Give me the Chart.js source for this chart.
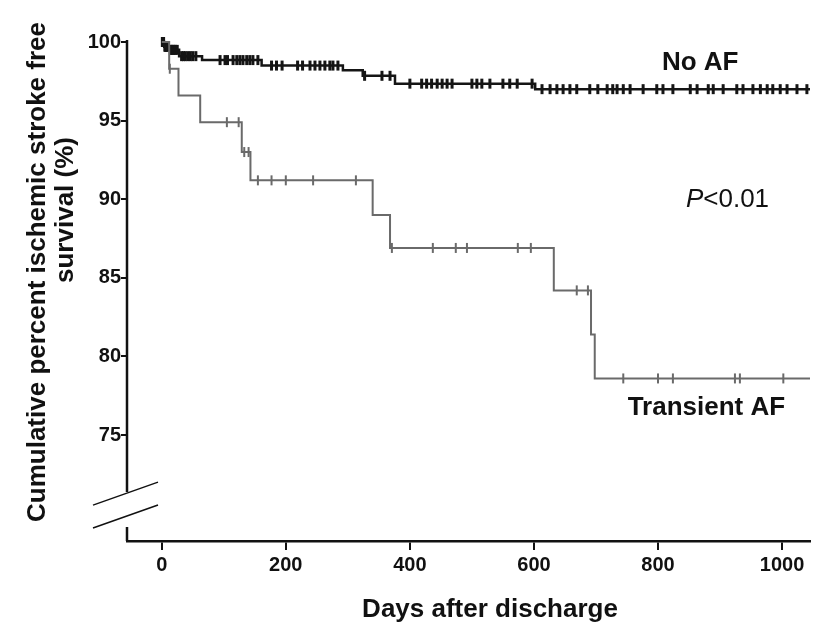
<!DOCTYPE html>
<html>
<head>
<meta charset="utf-8">
<script src="https://cdn.jsdelivr.net/npm/chart.js@4.4.0/dist/chart.umd.min.js"></script>
<style>
  body { margin: 0; background: #fff; }
  #wrap { width: 819px; height: 633px; }
</style>
</head>
<body>
<div id="wrap"><canvas id="kmChart" width="819" height="633"></canvas></div>
<script>
  // Kaplan-Meier steps (days after discharge, % survival)
  const noAfDays = [0, 4, 12, 28, 65, 161, 292, 324, 376, 602, 1045];
  const noAfSurv = [100, 99.7, 99.5, 99.1, 98.85, 98.5, 98.2, 97.85, 97.35, 97.0, 97.0];
  const tafDays = [0, 12, 27, 62, 129, 143, 340, 368, 632, 692, 698, 1045];
  const tafSurv = [100, 98.3, 96.6, 94.9, 93.0, 91.2, 89.0, 86.9, 84.2, 81.4, 78.6, 78.6];

  // censored observations (days)
  const noAfCensored = [1, 2, 3, 5, 6, 7, 8, 9, 14, 16, 18, 20, 22, 25, 32, 35, 38, 42, 46, 50, 55,
    94, 102, 106, 115, 121, 126, 131, 137, 142, 147, 155,
    177, 185, 194, 219, 227, 239, 247, 255, 263, 271, 276, 284,
    327, 355, 368,
    400, 419, 427, 435, 444, 452, 460, 468, 500, 508, 516, 529, 550, 561, 573, 597,
    613, 626, 637, 647, 658, 669, 690, 703, 718, 727, 734, 744, 755, 776, 798, 808, 824,
    852, 863, 881, 889, 905, 927, 937, 953, 965, 976, 985, 997, 1008, 1024, 1040];
  const tafCensored = [13, 105, 124, 133, 140, 155, 177, 200, 244, 313, 371, 437, 474, 492,
    574, 595, 669, 687, 744, 800, 824, 924, 932, 1002];

  const xTicks = [0, 200, 400, 600, 800, 1000];
  const yTicks = [75, 80, 85, 90, 95, 100];

  const FONT = '"Liberation Sans", Arial, sans-serif';

  // survival at time t from a step curve
  function survAt(days, surv, t) {
    let v = surv[0];
    for (let i = 0; i < days.length; i++) {
      if (days[i] <= t) v = surv[i];
    }
    return v;
  }

  function toPoints(xs, ys) {
    return xs.map((x, i) => ({ x: x, y: ys[i] }));
  }

  function censorPoints(times, days, surv) {
    return times.map(t => ({ x: t, y: survAt(days, surv, t) }));
  }

  // axis with a break + text labels
  const extrasPlugin = {
    id: 'extras',
    afterDraw(chart) {
      const ctx = chart.ctx;
      const area = chart.chartArea;
      const yScale = chart.scales.y;
      const xScale = chart.scales.x;
      const left = area.left;
      const breakTop = yScale.getPixelForValue(71.37);
      const breakBottom = yScale.getPixelForValue(69.15);

      ctx.save();
      ctx.strokeStyle = '#111';
      ctx.lineWidth = 2.5;
      ctx.beginPath();
      ctx.moveTo(left, area.top - 2);
      ctx.lineTo(left, breakTop);
      ctx.moveTo(left, breakBottom);
      ctx.lineTo(left, area.bottom);
      ctx.stroke();

      // break slashes
      ctx.lineWidth = 1.5;
      ctx.beginPath();
      ctx.moveTo(left - 34, breakTop + 13);
      ctx.lineTo(left + 31, breakTop - 10);
      ctx.moveTo(left - 34, breakBottom + 1);
      ctx.lineTo(left + 31, breakBottom - 22);
      ctx.stroke();

      // y title
      ctx.fillStyle = '#111';
      ctx.textAlign = 'center';
      ctx.textBaseline = 'middle';
      ctx.font = 'bold 26px ' + FONT;
      ctx.save();
      ctx.translate(38, 272);
      ctx.rotate(-Math.PI / 2);
      ctx.fillText('Cumulative percent ischemic stroke free', 0, 0);
      ctx.restore();
      ctx.save();
      ctx.translate(66, 210);
      ctx.rotate(-Math.PI / 2);
      ctx.fillText('survival (%)', 0, 0);
      ctx.restore();

      // x title
      ctx.font = 'bold 26px ' + FONT;
      ctx.fillText('Days after discharge', 490, 610);

      // curve labels
      ctx.fillText('No AF', xScale.getPixelForValue(868), yScale.getPixelForValue(98.66));
      ctx.fillText('Transient AF', xScale.getPixelForValue(878), yScale.getPixelForValue(76.7));

      // p value, italic P
      const px = xScale.getPixelForValue(912);
      const py = yScale.getPixelForValue(89.95);
      ctx.font = 'italic 26px ' + FONT;
      const wP = ctx.measureText('P').width;
      ctx.font = '26px ' + FONT;
      const wRest = ctx.measureText('<0.01').width;
      const start = px - (wP + wRest) / 2;
      ctx.textAlign = 'left';
      ctx.font = 'italic 26px ' + FONT;
      ctx.fillText('P', start, py);
      ctx.font = '26px ' + FONT;
      ctx.fillText('<0.01', start + wP, py);
      ctx.restore();
    }
  };

  const ctx = document.getElementById('kmChart').getContext('2d');
  const kmChart = new Chart(ctx, {
    type: 'scatter',
    data: {
      datasets: [
        {
          label: 'Transient AF',
          type: 'line',
          data: toPoints(tafDays, tafSurv),
          stepped: 'before',
          borderColor: '#6a6a6a',
          borderWidth: 2,
          pointRadius: 0,
          fill: false
        },
        {
          label: 'Transient AF censored',
          data: censorPoints(tafCensored, tafDays, tafSurv),
          pointStyle: 'line',
          rotation: 90,
          pointRadius: 5,
          borderColor: '#6a6a6a',
          borderWidth: 2
        },
        {
          label: 'No AF',
          type: 'line',
          data: toPoints(noAfDays, noAfSurv),
          stepped: 'before',
          borderColor: '#151515',
          borderWidth: 2.5,
          pointRadius: 0,
          fill: false
        },
        {
          label: 'No AF censored',
          data: censorPoints(noAfCensored, noAfDays, noAfSurv),
          pointStyle: 'line',
          rotation: 90,
          pointRadius: 5,
          borderColor: '#151515',
          borderWidth: 3
        }
      ]
    },
    options: {
      responsive: false,
      animation: false,
      clip: false,
      layout: { padding: { top: 42, right: 9, left: 0, bottom: 0 } },
      plugins: {
        legend: { display: false },
        tooltip: { enabled: false }
      },
      scales: {
        x: {
          type: 'linear',
          min: -56,
          max: 1045,
          afterBuildTicks: scale => { scale.ticks = xTicks.map(v => ({ value: v })); },
          afterFit: scale => { scale.height = 92; },
          grid: { drawOnChartArea: false, tickLength: 9, color: '#111', lineWidth: 2 },
          border: { display: true, color: '#111', width: 2.5 },
          ticks: {
            padding: 3,
            color: '#111',
            maxRotation: 0,
            callback: v => String(v),
            font: { family: FONT, size: 20, weight: 'bold' }
          }
        },
        y: {
          type: 'linear',
          min: 68.26,
          max: 100,
          afterBuildTicks: scale => { scale.ticks = yTicks.map(v => ({ value: v })); },
          afterFit: scale => { scale.width = 127; },
          grid: { drawOnChartArea: false, tickLength: 6, color: '#111', lineWidth: 2 },
          border: { display: false },
          ticks: {
            padding: 0,
            color: '#111',
            callback: v => String(v),
            font: { family: FONT, size: 20, weight: 'bold' }
          }
        }
      }
    },
    plugins: [extrasPlugin]
  });
</script>
</body>
</html>
